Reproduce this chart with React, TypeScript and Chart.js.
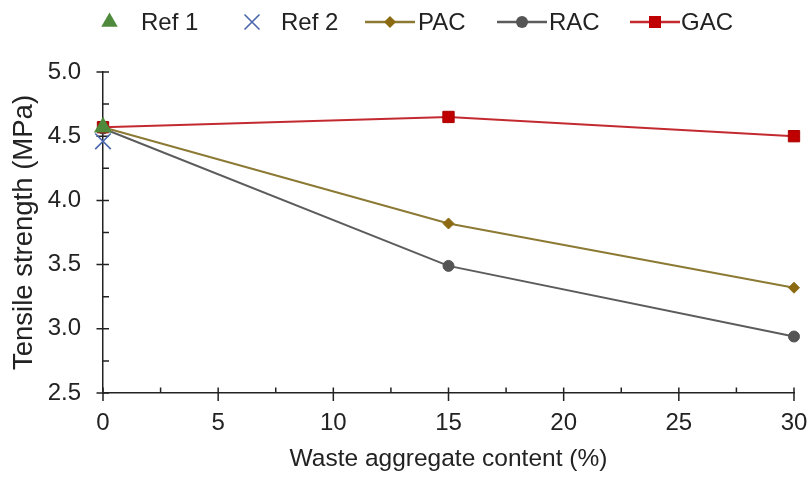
import React, { useEffect, useRef } from "react";
import { Chart, registerables } from "chart.js";

Chart.register(...registerables);

// Waste aggregate content (%) and tensile strength (MPa)
const contents = [0, 15, 30];
const pacStrength = [4.57, 3.82, 3.32];
const racStrength = [4.56, 3.49, 2.94];
const gacStrength = [4.57, 4.65, 4.5];
const ref1Strength = [4.57];
const ref2Strength = [4.46];

const xTicks = [0, 5, 10, 15, 20, 25, 30];
const yTicks = [2.5, 3.0, 3.5, 4.0, 4.5, 5.0];

const FONT = "'Liberation Sans', Arial, Helvetica, sans-serif";
const INK = "#222222";

const COLORS = {
  ref1: "#4f8a3c",
  ref2: "#4a66ad",
  pacLine: "#8c7a34",
  pacMark: "#8b6a12",
  racLine: "#5c5c5c",
  racMark: "#555555",
  gacLine: "#c32a30",
  gacMark: "#c00000",
};

// Axis tick marks: major ticks cross the axis line, minor ticks sit inside.
const axisTicks = {
  id: "axisTicks",
  beforeDatasetsDraw(chart: any) {
    const { ctx, chartArea, scales } = chart;
    const x = scales.x;
    const y = scales.y;
    ctx.save();
    ctx.strokeStyle = INK;
    ctx.lineWidth = 1.5;
    ctx.beginPath();
    for (let v = 0; v <= 30 + 1e-9; v += 2.5) {
      const px = x.getPixelForValue(v);
      const major = Math.abs(v / 5 - Math.round(v / 5)) < 1e-6;
      ctx.moveTo(px, chartArea.bottom - 5.5);
      ctx.lineTo(px, chartArea.bottom + (major ? 8 : 0));
    }
    for (let v = 2.5; v <= 5.0 + 1e-9; v += 0.25) {
      const py = y.getPixelForValue(v);
      const major = Math.abs(v / 0.5 - Math.round(v / 0.5)) < 1e-6;
      ctx.moveTo(chartArea.left - (major ? 6.5 : 0), py);
      ctx.lineTo(chartArea.left + 6, py);
    }
    ctx.stroke();
    ctx.restore();
  },
};

// Legend row across the top
const topLegend = {
  id: "topLegend",
  afterDraw(chart: any) {
    const { ctx } = chart;
    const cy = 22;
    ctx.save();
    ctx.font = `24px ${FONT}`;
    ctx.fillStyle = INK;
    ctx.textBaseline = "middle";
    ctx.textAlign = "left";

    // Ref 1: triangle
    ctx.fillStyle = COLORS.ref1;
    const tr = 9.5;
    const tx = 109.5;
    ctx.beginPath();
    ctx.moveTo(tx, cy - tr);
    ctx.lineTo(tx + tr * 0.866, cy + tr * 0.5);
    ctx.lineTo(tx - tr * 0.866, cy + tr * 0.5);
    ctx.closePath();
    ctx.fill();
    ctx.fillStyle = INK;
    ctx.fillText("Ref 1", 141, cy + 1);

    // Ref 2: cross
    ctx.strokeStyle = COLORS.ref2;
    ctx.lineWidth = 1.6;
    const cr = 7.5;
    const cxp = 252;
    ctx.beginPath();
    ctx.moveTo(cxp - cr, cy - cr);
    ctx.lineTo(cxp + cr, cy + cr);
    ctx.moveTo(cxp - cr, cy + cr);
    ctx.lineTo(cxp + cr, cy - cr);
    ctx.stroke();
    ctx.fillText("Ref 2", 281, cy + 1);

    const lineEntry = (
      x0: number,
      x1: number,
      line: string,
      mark: string,
      shape: string,
      label: string,
      tx0: number
    ) => {
      ctx.strokeStyle = line;
      ctx.lineWidth = 2.6;
      ctx.beginPath();
      ctx.moveTo(x0, cy);
      ctx.lineTo(x1, cy);
      ctx.stroke();
      const mx = (x0 + x1) / 2;
      ctx.fillStyle = mark;
      ctx.beginPath();
      if (shape === "diamond") {
        ctx.moveTo(mx - 6, cy);
        ctx.lineTo(mx, cy - 6);
        ctx.lineTo(mx + 6, cy);
        ctx.lineTo(mx, cy + 6);
        ctx.closePath();
      } else if (shape === "circle") {
        ctx.arc(mx, cy, 6, 0, Math.PI * 2);
      } else {
        ctx.rect(mx - 6, cy - 6, 12, 12);
      }
      ctx.fill();
      ctx.fillStyle = INK;
      ctx.fillText(label, tx0, cy + 1);
    };

    lineEntry(365, 415, COLORS.pacLine, COLORS.pacMark, "diamond", "PAC", 418);
    lineEntry(497, 547, COLORS.racLine, COLORS.racMark, "circle", "RAC", 549);
    lineEntry(630, 680, COLORS.gacLine, COLORS.gacMark, "square", "GAC", 681);
    ctx.restore();
  },
};

const toPoints = (xs: number[], ys: number[]) => ys.map((v, i) => ({ x: xs[i], y: v }));

export default function App() {
  const canvasRef = useRef<HTMLCanvasElement | null>(null);

  useEffect(() => {
    const canvas = canvasRef.current;
    if (!canvas) return;
    // Earlier datasets are painted on top, so the reference points come first.
    const chart = new Chart(canvas, {
      type: "line",
      data: {
        datasets: [
          {
            label: "Ref 1",
            data: toPoints([0], ref1Strength),
            showLine: false,
            borderColor: COLORS.ref1,
            backgroundColor: COLORS.ref1,
            pointStyle: "triangle",
            pointRadius: 10.5,
            pointBorderWidth: 0,
            clip: false,
          },
          {
            label: "Ref 2",
            data: toPoints([0], ref2Strength),
            showLine: false,
            borderColor: COLORS.ref2,
            backgroundColor: COLORS.ref2,
            pointStyle: "crossRot",
            pointRadius: 11,
            pointBorderWidth: 1.6,
            clip: false,
          },
          {
            label: "GAC",
            data: toPoints(contents, gacStrength),
            borderColor: COLORS.gacLine,
            backgroundColor: COLORS.gacMark,
            pointBorderColor: "#a80000",
            pointStyle: "rect",
            pointRadius: 8,
            pointBorderWidth: 1,
            borderWidth: 2,
            clip: false,
          },
          {
            label: "PAC",
            data: toPoints(contents, pacStrength),
            borderColor: COLORS.pacLine,
            backgroundColor: COLORS.pacMark,
            pointBorderColor: COLORS.pacMark,
            pointStyle: "rectRot",
            pointRadius: 5.5,
            pointBorderWidth: 1,
            borderWidth: 2,
            clip: false,
          },
          {
            label: "RAC",
            data: toPoints(contents, racStrength),
            borderColor: COLORS.racLine,
            backgroundColor: COLORS.racMark,
            pointBorderColor: COLORS.racMark,
            pointStyle: "circle",
            pointRadius: 5.5,
            pointBorderWidth: 1,
            borderWidth: 2,
            clip: false,
          },
        ],
      },
      options: {
        responsive: false,
        animation: false,
        devicePixelRatio: 1,
        layout: { padding: { top: 72, right: 1, left: 0, bottom: 0 } },
        plugins: {
          legend: { display: false },
          tooltip: { enabled: false },
        },
        scales: {
          x: {
            type: "linear",
            min: 0,
            max: 30,
            afterBuildTicks: (s: any) => {
              s.ticks = xTicks.map((v) => ({ value: v }));
            },
            ticks: {
              font: { size: 24, family: FONT },
              color: INK,
              padding: 16,
            },
            grid: { display: false, drawTicks: false },
            border: { display: true, color: INK, width: 1.5 },
            title: {
              display: true,
              text: "Waste aggregate content (%)",
              font: { size: 24.5, family: FONT },
              color: INK,
              padding: { top: 4, bottom: 4 },
            },
            afterFit: (s: any) => {
              s.height = 85;
              // let the last label run to the canvas edge
              s.paddingRight = 14;
            },
          },
          y: {
            type: "linear",
            min: 2.5,
            max: 5.0,
            afterBuildTicks: (s: any) => {
              s.ticks = yTicks.map((v) => ({ value: v }));
            },
            ticks: {
              font: { size: 24, family: FONT },
              color: INK,
              padding: 22,
              callback: (v: any) => Number(v).toFixed(1),
            },
            grid: { display: false, drawTicks: false },
            border: { display: true, color: INK, width: 1.5 },
            title: {
              display: true,
              text: "Tensile strength (MPa)",
              font: { size: 27.5, family: FONT },
              color: INK,
              padding: { top: 8, bottom: 4 },
            },
            afterFit: (s: any) => {
              s.width = 103;
            },
          },
        },
      },
      plugins: [axisTicks, topLegend],
    });
    return () => chart.destroy();
  }, []);

  return (
    <div style={{ position: "absolute", left: 0, top: 0, width: 808, height: 478, background: "#ffffff" }}>
      <canvas ref={canvasRef} width={808} height={478} />
    </div>
  );
}
